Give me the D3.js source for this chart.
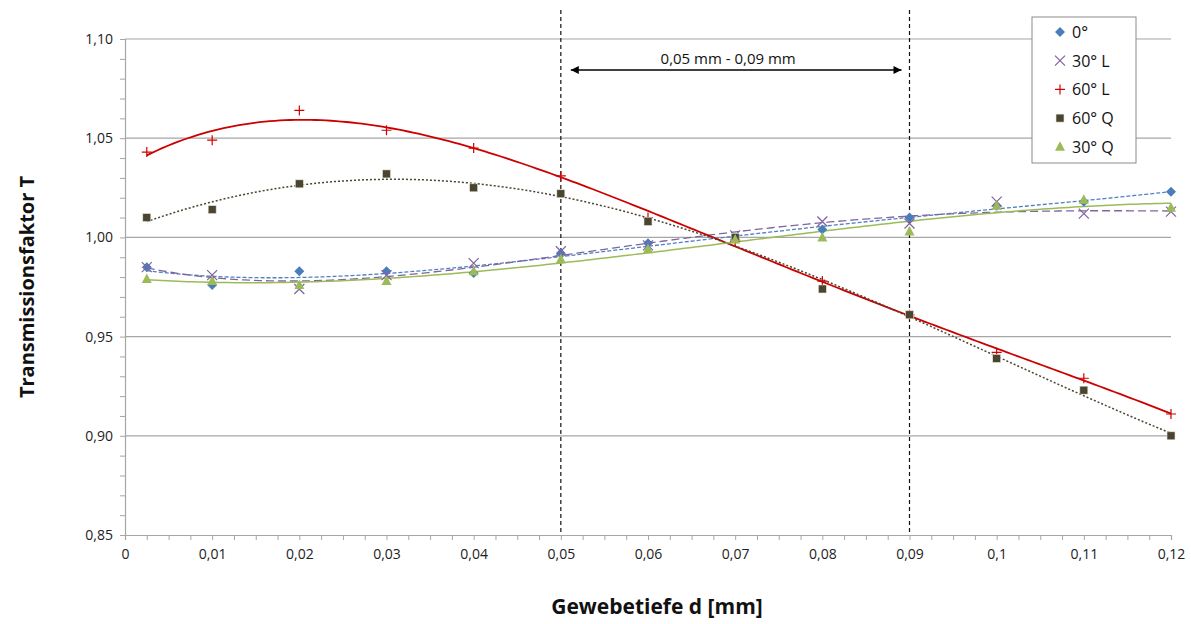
<!DOCTYPE html>
<html>
<head>
<meta charset="utf-8">
<script src="https://cdn.jsdelivr.net/npm/d3@7"></script>
<style>
  body { margin:0; background:#fff; }
  text { font-family:"Open Sans", "Noto Sans", sans-serif; }
</style>
</head>
<body>
<svg id="chart" width="1191" height="624"></svg>
<script>
"use strict";

// Gewebetiefe d [mm]
const depths = [0.0025, 0.01, 0.02, 0.03, 0.04, 0.05, 0.06, 0.07, 0.08, 0.09, 0.10, 0.11, 0.12];

const t0   = [0.985, 0.976, 0.983, 0.983, 0.982, 0.992, 0.997, 1.000, 1.004, 1.010, 1.016, 1.018, 1.023];
const t30L = [0.985, 0.981, 0.974, 0.981, 0.987, 0.993, 0.996, 1.001, 1.008, 1.007, 1.018, 1.012, 1.013];
const t60L = [1.043, 1.049, 1.064, 1.054, 1.045, 1.031, 1.010, 0.998, 0.978, 0.961, 0.942, 0.929, 0.911];
const t60Q = [1.010, 1.014, 1.027, 1.032, 1.025, 1.022, 1.008, 1.000, 0.974, 0.961, 0.939, 0.923, 0.900];
const t30Q = [0.979, 0.978, 0.976, 0.978, 0.983, 0.989, 0.994, 0.999, 1.000, 1.003, 1.016, 1.019, 1.015];

const seriesNames = ['0°', '30° L', '60° L', '60° Q', '30° Q'];
const xTicks = [0, 0.01, 0.02, 0.03, 0.04, 0.05, 0.06, 0.07, 0.08, 0.09, 0.1, 0.11, 0.12];
const yTicks = [0.85, 0.90, 0.95, 1.00, 1.05, 1.10];
const markLines = [0.05, 0.09];
const rangeLabel = '0,05 mm - 0,09 mm';

let series = [
  {name:seriesNames[0], vals:t0,   sym:'diamond',  color:'#4a7ebb', line:'#4f81bd', dash:'4,2', lw:1.3},
  {name:seriesNames[1], vals:t30L, sym:'cross',    color:'#7f62a0', line:'#8064a2', dash:'8,4', lw:1.3},
  {name:seriesNames[2], vals:t60L, sym:'plus',     color:'#d00000', line:'#cc0000', dash:null,  lw:1.8},
  {name:seriesNames[3], vals:t60Q, sym:'square',   color:'#4a4530', line:'#4a4530', dash:'2,2', lw:1.5},
  {name:seriesNames[4], vals:t30Q, sym:'triangle', color:'#9bbb59', line:'#9bbb59', dash:null,  lw:1.5},
];

// least squares polynomial (like the excel trendline), x scaled by 100
function polyFit(xs, ys, deg) {
  let n = deg + 1;
  let A = d3.range(n).map(() => new Array(n + 1).fill(0));
  xs.forEach((x0, k) => {
    let x = x0 * 100;
    for (let i = 0; i < n; i++) {
      for (let j = 0; j < n; j++) A[i][j] += Math.pow(x, i + j);
      A[i][n] += ys[k] * Math.pow(x, i);
    }
  });
  for (let i = 0; i < n; i++) {
    let p = i;
    for (let r = i + 1; r < n; r++) if (Math.abs(A[r][i]) > Math.abs(A[p][i])) p = r;
    [A[i], A[p]] = [A[p], A[i]];
    for (let r = 0; r < n; r++) {
      if (r == i) continue;
      let f = A[r][i] / A[i][i];
      for (let c = i; c <= n; c++) A[r][c] -= f * A[i][c];
    }
  }
  let coef = A.map((row, i) => row[n] / row[i]);
  return x0 => coef.reduce((s, c, i) => s + c * Math.pow(x0 * 100, i), 0);
}

const svg = d3.select('#chart');
const m = {l:125, r:1171, t:39, b:535};

let x = d3.scaleLinear().domain([0, 0.12]).range([m.l, m.r]);
let y = d3.scaleLinear().domain([0.85, 1.10]).range([m.b, m.t]);
let fmt = d3.format('.2f');
let comma = v => fmt(v).replace('.', ',');

// grid
svg.append('g').selectAll('line').data(yTicks.slice(1)).join('line')
  .attr('x1', m.l).attr('x2', m.r)
  .attr('y1', d => y(d)).attr('y2', d => y(d))
  .attr('stroke', '#a6a6a6').attr('stroke-width', 1.2);

// y axis with minor ticks
let yAxis = d3.axisLeft(y).tickValues(d3.range(0, 26).map(i => 0.85 + i * 0.01))
  .tickSize(5).tickFormat(d => yTicks.some(t => Math.abs(t - d) < 1e-6) ? comma(d) : '');
let gy = svg.append('g').attr('transform', `translate(${m.l},0)`).call(yAxis);
gy.select('.domain').attr('stroke', '#a6a6a6').attr('stroke-width', 1.2);
gy.selectAll('.tick line').attr('stroke', '#a6a6a6');
gy.selectAll('.tick text').attr('font-size', 14).attr('fill', '#222').attr('x', -12);

// x axis with minor ticks
let xAxis = d3.axisBottom(x).tickValues(d3.range(0, 49).map(i => i * 0.0025))
  .tickSize(5).tickFormat(d => {
    let t = xTicks.find(v => Math.abs(v - d) < 1e-7);
    if (t === undefined) return '';
    return t == 0 ? '0' : String(+t.toFixed(2)).replace('.', ',');
  });
let gx = svg.append('g').attr('transform', `translate(0,${m.b})`).call(xAxis);
gx.select('.domain').attr('stroke', '#a6a6a6').attr('stroke-width', 1.2);
gx.selectAll('.tick line').attr('stroke', '#a6a6a6');
gx.selectAll('.tick text').attr('font-size', 14).attr('fill', '#222').attr('y', 14);

// dashed range markers
svg.append('g').selectAll('line').data(markLines).join('line')
  .attr('x1', d => x(d)).attr('x2', d => x(d))
  .attr('y1', 10).attr('y2', m.b)
  .attr('stroke', '#111').attr('stroke-width', 1.2).attr('stroke-dasharray', '4,3');

let defs = svg.append('defs');
defs.append('marker').attr('id', 'arr').attr('viewBox', '0 0 10 10')
  .attr('refX', 10).attr('refY', 5).attr('markerWidth', 10).attr('markerHeight', 8)
  .attr('markerUnits', 'userSpaceOnUse').attr('orient', 'auto-start-reverse')
  .append('path').attr('d', 'M0,0 L10,5 L0,10 Z').attr('fill', '#000');

svg.append('line')
  .attr('x1', x(markLines[0]) + 10).attr('x2', x(markLines[1]) - 8)
  .attr('y1', 70).attr('y2', 70)
  .attr('stroke', '#000').attr('stroke-width', 1.3)
  .attr('marker-start', 'url(#arr)').attr('marker-end', 'url(#arr)');
svg.append('text').attr('x', (x(markLines[0]) + x(markLines[1])) / 2 - 7).attr('y', 64)
  .attr('text-anchor', 'middle').attr('font-size', 15).attr('fill', '#111').text(rangeLabel);

// trendlines (4th order, fitted to the points)
let xs = d3.range(0, 201).map(i => depths[0] + (depths[depths.length - 1] - depths[0]) * i / 200);
let lineGen = d3.line().x(d => x(d[0])).y(d => y(d[1]));
series.forEach(s => {
  let f = polyFit(depths, s.vals, 4);
  svg.append('path').datum(xs.map(v => [v, f(v)]))
    .attr('d', lineGen).attr('fill', 'none')
    .attr('stroke', s.line).attr('stroke-width', s.lw)
    .attr('stroke-dasharray', s.dash);
});

// markers
function drawSym(g, sym, color) {
  if (sym == 'diamond')
    g.append('path').attr('d', 'M0,-5 L5,0 L0,5 L-5,0 Z').attr('fill', color);
  else if (sym == 'square')
    g.append('rect').attr('x', -4).attr('y', -4).attr('width', 8).attr('height', 8)
      .attr('fill', color).attr('stroke', '#e8e6d8').attr('stroke-width', 0.6);
  else if (sym == 'triangle')
    g.append('path').attr('d', 'M0,-5.5 L5,4 L-5,4 Z').attr('fill', color);
  else if (sym == 'cross')
    g.append('path').attr('d', 'M-5,-5 L5,5 M-5,5 L5,-5').attr('stroke', color).attr('stroke-width', 1.2);
  else if (sym == 'plus')
    g.append('path').attr('d', 'M-5,0 L5,0 M0,-5 L0,5').attr('stroke', color).attr('stroke-width', 1.2);
}

series.forEach(s => {
  let g = svg.append('g');
  s.vals.forEach((v, i) => {
    let p = g.append('g').attr('transform', `translate(${x(depths[i])},${y(v)})`);
    drawSym(p, s.sym, s.color);
  });
});

// legend
let lg = svg.append('g').attr('transform', 'translate(1032,17)');
lg.append('rect').attr('width', 104).attr('height', 146)
  .attr('fill', '#fff').attr('stroke', '#8c8c8c').attr('stroke-width', 1);
series.forEach((s, i) => {
  let yy = 15 + i * 28.7;
  let p = lg.append('g').attr('transform', `translate(28,${yy})`);
  drawSym(p, s.sym, s.color);
  lg.append('text').attr('x', 40).attr('y', yy + 6).attr('font-size', 16).attr('fill', '#111').text(s.name);
});

// axis titles
svg.append('text').attr('x', 657).attr('y', 614).attr('text-anchor', 'middle')
  .attr('font-size', 21).attr('font-weight', 'bold').attr('fill', '#111').text('Gewebetiefe d [mm]');
svg.append('text').attr('transform', 'translate(34,287) rotate(-90)').attr('text-anchor', 'middle')
  .attr('font-size', 20).attr('font-weight', 'bold').attr('fill', '#111').text('Transmissionsfaktor T');
</script>
</body>
</html>
